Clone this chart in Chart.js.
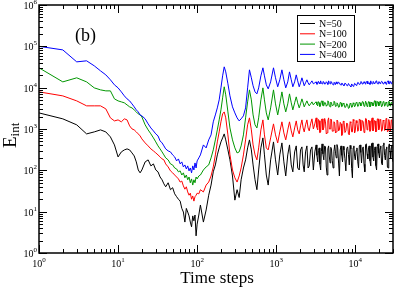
<!DOCTYPE html>
<html>
<head>
<meta charset="utf-8">
<script src="https://cdn.jsdelivr.net/npm/chart.js@4"></script>
<style>
  html, body { margin: 0; padding: 0; background: #fff; }
  #wrap { width: 395px; height: 288px; }
</style>
</head>
<body>
<div id="wrap"><canvas id="eintChart" width="395" height="288"></canvas></div>
<script>
// time steps shared by all four runs
const steps = [1,2,3,4,5,6,7,8,9,10,11,12,13,14,15,16,17,18,19,20,22,24,26,28,30,32,34,36,38,40,43,46,49,52,55,58,61,64,67,70,73,76,79,82,85,88,91,94,97,100,
  105,110,120,130,140,150,160,170,180,190,200,210,220,230,245,260,280,300,320,340,360,385,410,435,459,485,510,540,570,600,640,679,710,750,792,850,924,980,1045,1110,1181,1250,1320,1400,1473,1550,1623,1710,1792,1870,1955,2030,2115,2190,2260,2350,2446,2530,2617,2720,2831,2950,3080,
  3200,3270,3350,3420,3500,3570,3650,3720,3800,3900,4000,4100,4200,4300,4400,4500,4600,4700,4800,4900,
  5000,5120,5250,5370,5500,5620,5750,5870,6000,6150,6300,6450,6600,6750,6900,7050,7200,7400,7600,7800,
  8000,8200,8400,8600,8800,9000,9200,9400,9600,9800,10000,10250,10500,10750,11000,11250,11500,11750,12000,12300,
  12600,12900,13200,13500,13800,14100,14400,14700,15000,15350,15700,16050,16400,16750,17100,17450,17800,18200,18600,19000,
  19400,19800,20200,20600,21000,21500,22000,22500,23000,23500,24000,24500,25000,25500,26000,26500,27000,27500,28000,28500,
  29000,29500,30000];

const n400 = [100000,82000,42100,44600,33700,25500,20400,15500,11700,9890,7910,6330,5360,4790,4050,3430,2900,2590,2190,2080,
  1760,1330,1060,899,761,681,515,461,390,330,295,279,236,211,169,189,143,160,121,135,108,128,97,114,87,128,102,151,114,169,
  200,236,412,349,545,720,1490,2190,3240,5070,9890,19300,31900,24100,12400,6330,3430,2450,1860,1570,
  1760,2080,3240,9890,27000,17300,11100,7910,7080,9890,19300,30200,19300,11700,9350,13800,30200,17300,10500,15500,
  27000,15500,9890,13800,24100,15500,10500,13800,20400,14600,10500,13100,17300,13800,11100,13100,15500,13100,11700,13100,
  14600,12400,13100,
  13800,12100,12400,14200,13100,12400,14600,12800,12400,14000,
  13800,12200,12400,13900,13100,12000,14600,13100,12400,14100,
  13800,12300,11700,13400,13100,11900,13800,12500,12400,13600,
  13100,11800,11700,13000,12400,11500,11100,12900,12400,11300,
  11100,12600,11700,11000,10500,12300,11700,10800,11100,12700,
  12400,11400,11700,13400,13100,11900,12400,14000,13800,12200,
  12400,13900,13100,12100,13800,14300,12400,13000,13100,12000,
  14600,12700,12400,14100,13800,12300,13100,14400,14600,12500,
  12400,13900,13800,12600,13100,14200,13800,12300,12400,13700,
  13800,12100,13100,14200,14600,12600,12400,14000,13800,12400,
  13100,14100,13800];

const n200 = [30200,13800,17300,13800,9890,8850,8370,8370,5360,4790,4530,4290,3830,3430,3240,2900,2590,2320,2190,1960,
  1260,951,761,609,487,390,330,279,236,200,179,143,135,114,108,92,97,77,87,66,77,59,69,50,62,44,59,50,69,62,
  73,77,102,121,135,200,312,545,951,1660,2900,5660,10500,6700,2590,1060,545,349,264,279,
  390,720,1860,4530,8850,5070,2190,1260,1060,1860,5070,9890,5070,2450,1660,3240,8850,4050,2190,4050,
  7910,4050,2590,4050,7080,4290,2900,4290,5990,4290,3240,4050,5360,4290,3430,4050,4790,4050,3630,4050,
  4530,3830,4290,
  4530,3900,3630,4600,4290,3500,3830,4700,4790,3700,
  3630,4400,4290,3550,3830,4800,4530,3600,3430,4500,
  4290,3650,3830,4700,4530,3500,3630,4300,4050,3350,
  3430,4400,4290,3500,3630,4200,4050,3300,3430,4100,
  3830,3150,3240,4200,4050,3350,3430,4300,4050,3450,
  3630,4400,4290,3500,3630,4500,4290,3600,3830,4600,
  4530,3550,3630,4700,4290,3500,3830,4600,4530,3450,
  3630,4500,4290,3600,3830,4800,4790,3550,3630,4600,
  4530,3600,3830,4700,4290,3450,3630,4600,4530,3550,
  3830,4500,4290,3500,3630,4700,4530,3600,3830,4400,
  4290,3700,4050];

const n100 = [7910,6330,4790,3630,3630,3630,3070,1860,1570,1660,1490,1760,1660,1190,1005,951,851,761,681,576,
  461,390,330,295,264,236,211,189,179,143,121,97,87,77,69,62,52,55,42,35,40,30,25,28,20,24,18,23,25,28,
  27,34,30,44,52,73,121,236,487,851,1490,2320,2590,1860,720,236,102,66,52,73,
  114,236,545,1260,1860,951,412,236,179,349,951,1660,720,349,312,609,1330,720,461,851,
  1490,805,545,951,1490,899,644,1060,1570,951,761,1190,1660,1060,851,1260,1660,1060,899,1330,
  1760,1005,1330,
  1860,1100,951,1700,1570,820,851,1650,1760,950,
  1060,1800,1490,760,805,1600,1860,1000,1005,1750,
  1660,880,899,1500,1400,800,851,1650,1570,900,
  951,1450,1330,700,761,1550,1490,820,899,1400,
  1330,760,720,1500,1400,850,851,1700,1570,800,
  899,1600,1400,880,951,1750,1660,900,1005,1600,
  1490,820,899,1800,1760,950,1060,1650,1570,880,
  951,1700,1860,900,1005,1600,1570,850,899,1750,
  1760,950,1060,1700,1660,880,951,1650,1570,920,
  1005,1800,1760,860,899,1700,1490,900,1005,1650,
  1660,950,1120];

const n50 = [2450,1760,1260,761,851,951,851,644,412,211,279,312,330,312,264,223,160,102,87,102,
  160,179,128,143,102,92,69,59,47,40,50,34,38,27,23,20,18,12,9.8,5.6,12,9.8,7.9,5.6,4.3,7.9,6.0,8.3,2.6,5.0,
  8.3,14.5,5.6,11,25,44,92,135,236,349,487,609,761,545,312,179,73,19,34,22,
  59,114,179,349,545,312,135,59,34,102,349,609,236,77,44,179,487,179,77,236,
  461,160,73,236,412,135,92,279,390,114,102,312,369,135,92,279,390,114,128,312,
  369,102,279,
  412,230,160,300,349,140,102,280,436,250,
  179,390,369,120,77,330,390,210,151,360,
  330,170,114,290,412,260,200,420,349,150,
  73,310,390,230,160,380,312,190,97,340,
  369,240,135,400,330,110,66,350,390,220,
  179,300,349,160,114,390,412,270,151,330,
  369,140,92,420,436,250,189,350,390,170,
  128,440,461,210,169,300,369,130,102,380,
  436,260,200,340,390,150,135,410,461,230,
  179,330,369,120,114,400,436,280,200,350,
  390,190,160];

const seriesNames = ['N=50', 'N=100', 'N=200', 'N=400'];
const seriesColors = ['#000000', '#ff0000', '#009600', '#0000ff'];
const xExponents = [0, 1, 2, 3, 4];
const yExponents = [0, 1, 2, 3, 4, 5, 6];

const serif = '"Liberation Serif", "DejaVu Serif", serif';

function toPoints(values) {
  return values.map((v, i) => ({ x: steps[i], y: v }));
}

// log-axis tick marks on all four sides, pointing inwards, plus labels
const frame = {
  id: 'frame',
  afterDatasetsDraw(chart) {
    const { ctx, chartArea: a, scales: { x, y } } = chart;
    ctx.save();
    ctx.strokeStyle = '#000';
    ctx.lineWidth = 1;

    const ticksFor = (min, max) => {
      const out = [];
      for (let d = 1; d <= max; d *= 10) {
        for (let k = 1; k <= 9; k++) {
          const v = k * d;
          if (v >= min && v <= max) out.push({ v, major: k === 1 });
        }
      }
      return out;
    };

    ctx.beginPath();
    ticksFor(x.min, x.max).forEach(t => {
      const px = Math.round(x.getPixelForValue(t.v)) + 0.5;
      const len = t.major ? 8 : 4;
      ctx.moveTo(px, a.bottom); ctx.lineTo(px, a.bottom - len);
      ctx.moveTo(px, a.top); ctx.lineTo(px, a.top + len);
    });
    ticksFor(y.min, y.max).forEach(t => {
      const py = Math.round(y.getPixelForValue(t.v)) + 0.5;
      const len = t.major ? 8 : 4;
      ctx.moveTo(a.left, py); ctx.lineTo(a.left + len, py);
      ctx.moveTo(a.right, py); ctx.lineTo(a.right - len, py);
    });
    ctx.stroke();

    ctx.lineWidth = 1.5;
    ctx.strokeRect(a.left, a.top, a.right - a.left, a.bottom - a.top);

    // tick labels: 10 with a superscript exponent
    ctx.fillStyle = '#000';
    ctx.textBaseline = 'alphabetic';
    ctx.textAlign = 'left';
    const label = (e, cx, baseY, anchor) => {
      ctx.font = '10px ' + serif;
      const w1 = ctx.measureText('10').width;
      ctx.font = '7px ' + serif;
      const w2 = ctx.measureText(String(e)).width;
      const x0 = anchor === 'center' ? cx - (w1 + w2) / 2 : cx - (w1 + w2);
      ctx.font = '10px ' + serif;
      ctx.fillText('10', x0, baseY);
      ctx.font = '7px ' + serif;
      ctx.fillText(String(e), x0 + w1, baseY - 5);
    };
    xExponents.forEach(e => label(e, x.getPixelForValue(Math.pow(10, e)), a.bottom + 14, 'center'));
    yExponents.forEach(e => label(e, a.left - 2, y.getPixelForValue(Math.pow(10, e)) + 4, 'right'));

    // axis titles
    ctx.font = '17px ' + serif;
    ctx.textAlign = 'center';
    ctx.fillText('Time steps', (a.left + a.right) / 2 + 1, 283);

    ctx.save();
    ctx.translate(16, 148);
    ctx.rotate(-Math.PI / 2);
    ctx.textAlign = 'left';
    ctx.font = '19px ' + serif;
    ctx.fillText('E', 0, 0);
    const ew = ctx.measureText('E').width;
    ctx.font = '13px ' + serif;
    ctx.fillText('int', ew, 3);
    ctx.restore();

    // panel tag
    ctx.font = '18px ' + serif;
    ctx.textAlign = 'left';
    ctx.fillText('(b)', 75, 41);

    // legend box
    const bx = 297.5, by = 15.5, bw = 57, bh = 46;
    ctx.fillStyle = '#fff';
    ctx.fillRect(bx, by, bw, bh);
    ctx.lineWidth = 1;
    ctx.strokeStyle = '#000';
    ctx.strokeRect(bx, by, bw, bh);
    ctx.font = '10px ' + serif;
    seriesNames.forEach((name, i) => {
      const ly = 23.5 + i * 10.3;
      ctx.strokeStyle = seriesColors[i];
      ctx.beginPath();
      ctx.moveTo(300, ly); ctx.lineTo(315, ly);
      ctx.stroke();
      ctx.fillStyle = '#000';
      ctx.fillText(name, 319, ly + 3.5);
    });
    ctx.restore();
  }
};

// blue drawn on top, black underneath
const order = [3, 2, 1, 0];
const values = [n50, n100, n200, n400];

new Chart(document.getElementById('eintChart').getContext('2d'), {
  type: 'line',
  data: {
    datasets: order.map(i => ({
      label: seriesNames[i],
      data: toPoints(values[i]),
      borderColor: seriesColors[i],
      backgroundColor: seriesColors[i],
      borderWidth: 1,
      pointRadius: 0,
      tension: 0,
      fill: false
    }))
  },
  options: {
    responsive: false,
    animation: false,
    devicePixelRatio: 1,
    layout: { padding: { left: 39, right: 2, top: 5, bottom: 35 } },
    plugins: {
      legend: { display: false },
      tooltip: { enabled: false }
    },
    scales: {
      x: {
        type: 'logarithmic',
        min: 1,
        max: 30000,
        grid: { display: false, drawTicks: false },
        border: { display: false },
        ticks: { display: false },
        afterFit(scale) { scale.height = 0; }
      },
      y: {
        type: 'logarithmic',
        min: 1,
        max: 1000000,
        grid: { display: false, drawTicks: false },
        border: { display: false },
        ticks: { display: false },
        afterFit(scale) { scale.width = 0; }
      }
    }
  },
  plugins: [frame]
});
</script>
</body>
</html>
